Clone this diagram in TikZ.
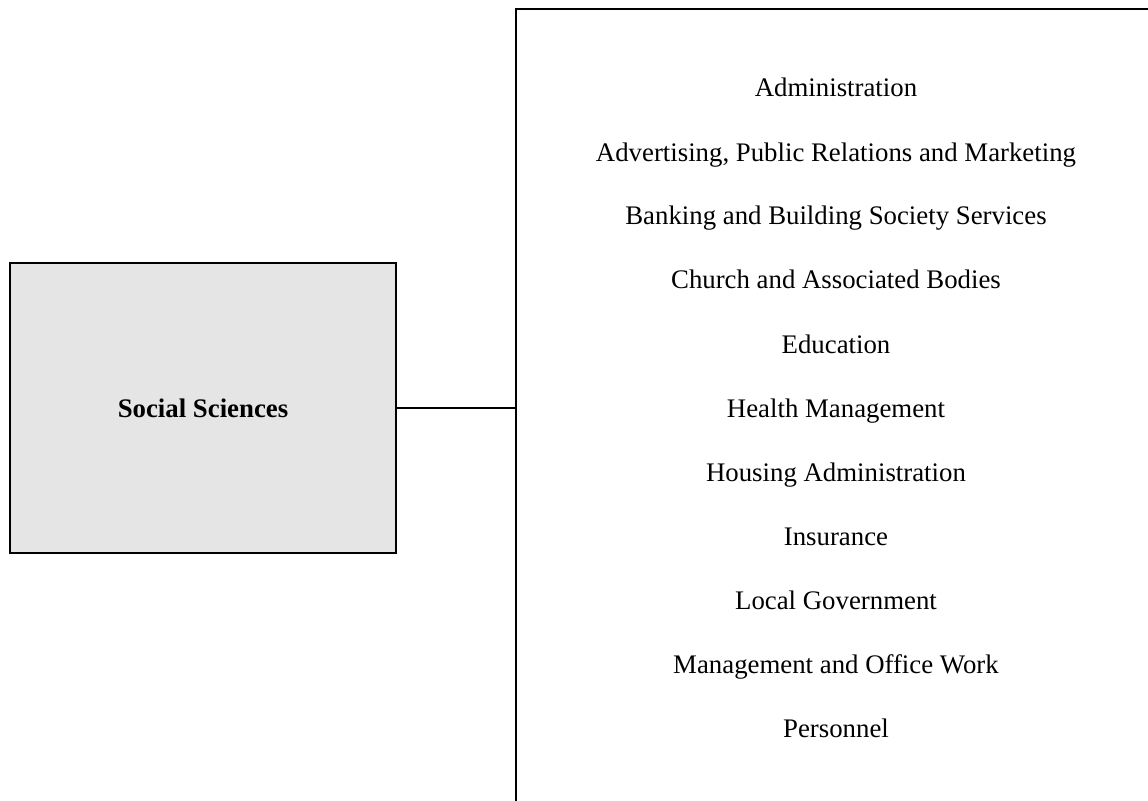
\documentclass[tikz,border=0pt]{standalone}
\usepackage{fontspec}
\setmainfont{Liberation Serif}
\usepackage{tikz}
\usetikzlibrary{positioning}

\begin{document}
\begin{tikzpicture}[
    x=0.5pt,y=0.5pt,
    node distance=0pt,
    subject/.style={rectangle,draw=black,fill=black!10,line width=1.4pt,minimum width=193pt,minimum height=145pt,font=\fontsize{13.4}{16}\selectfont\bfseries},
    listbox/.style={rectangle,draw=black,line width=1.4pt,minimum width=320pt,minimum height=399pt},
    career/.style={inner sep=0pt,outer sep=0pt,minimum height=32pt,text height=10pt,text depth=3pt,font=\fontsize{13.4}{16}\selectfont},
    link/.style={line width=1.4pt}
  ]
    \useasboundingbox (0,0) rectangle (1148,800);
    \clip (0,0) rectangle (1148,800);

    \node[subject] (social) at (203,392) {Social Sciences};
    \node[listbox] (careers) at (836,392) {};

    \node[career] (admin) at (836,710) {Administration};
    \node[career,below=of admin] (advert) {Advertising, Public Relations and Marketing};
    \node[career,below=of advert] (banking) {Banking and Building Society Services};
    \node[career,below=of banking] (church) {Church and Associated Bodies};
    \node[career,below=of church] (education) {Education};
    \node[career,below=of education] (health) {Health Management};
    \node[career,below=of health] (housing) {Housing Administration};
    \node[career,below=of housing] (insurance) {Insurance};
    \node[career,below=of insurance] (localgov) {Local Government};
    \node[career,below=of localgov] (office) {Management and Office Work};
    \node[career,below=of office] (personnel) {Personnel};

    \draw[link] (social.east) -- (careers.west);
  \end{tikzpicture}
\end{document}
